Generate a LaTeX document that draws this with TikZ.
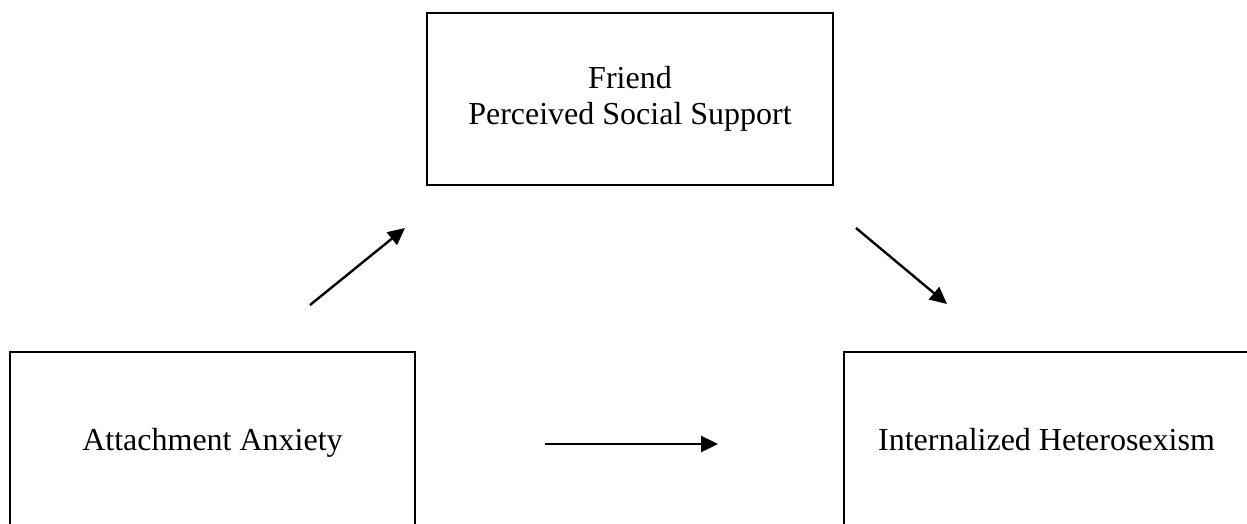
\documentclass[tikz,border=0pt]{standalone}
\usepackage{fontspec}
\setmainfont{Liberation Serif}
\usetikzlibrary{arrows.meta}
\tikzset{
  varbox/.style={draw=black, line width=1.6pt, fill=none, align=center,
    inner sep=0pt, font=\fontsize{32}{36}\selectfont},
  oneline/.style={text height=25pt, text depth=5pt},
  path arrow/.style={line width=2.4pt, -{Triangle[length=17pt,width=16pt]}}
}
\begin{document}
\begin{tikzpicture}[x=1pt, y=-1pt]
  \useasboundingbox (0,0) rectangle (1247,523);
  % variables
  \node[varbox, minimum width=406pt, minimum height=172pt] (support) at (630,99)
    {Friend\\Perceived Social Support};
  \node[varbox, oneline, minimum width=405pt, minimum height=176pt] (anxiety) at (212.5,440)
    {Attachment Anxiety};
  \node[varbox, oneline, minimum width=405pt, minimum height=176pt] (heterosexism) at (1046.5,440)
    {Internalized Heterosexism};
  % free-standing path arrows
  \coordinate (a1s) at (310,305);
  \coordinate (a1e) at (405,228);
  \coordinate (a2s) at (856,228);
  \coordinate (a2e) at (947,304);
  \coordinate (a3s) at (545,444);
  \coordinate (a3e) at (718,444);
  \draw[path arrow] (a1s) -- (a1e);
  \draw[path arrow] (a2s) -- (a2e);
  \draw[path arrow] (a3s) -- (a3e);
\end{tikzpicture}
\end{document}
